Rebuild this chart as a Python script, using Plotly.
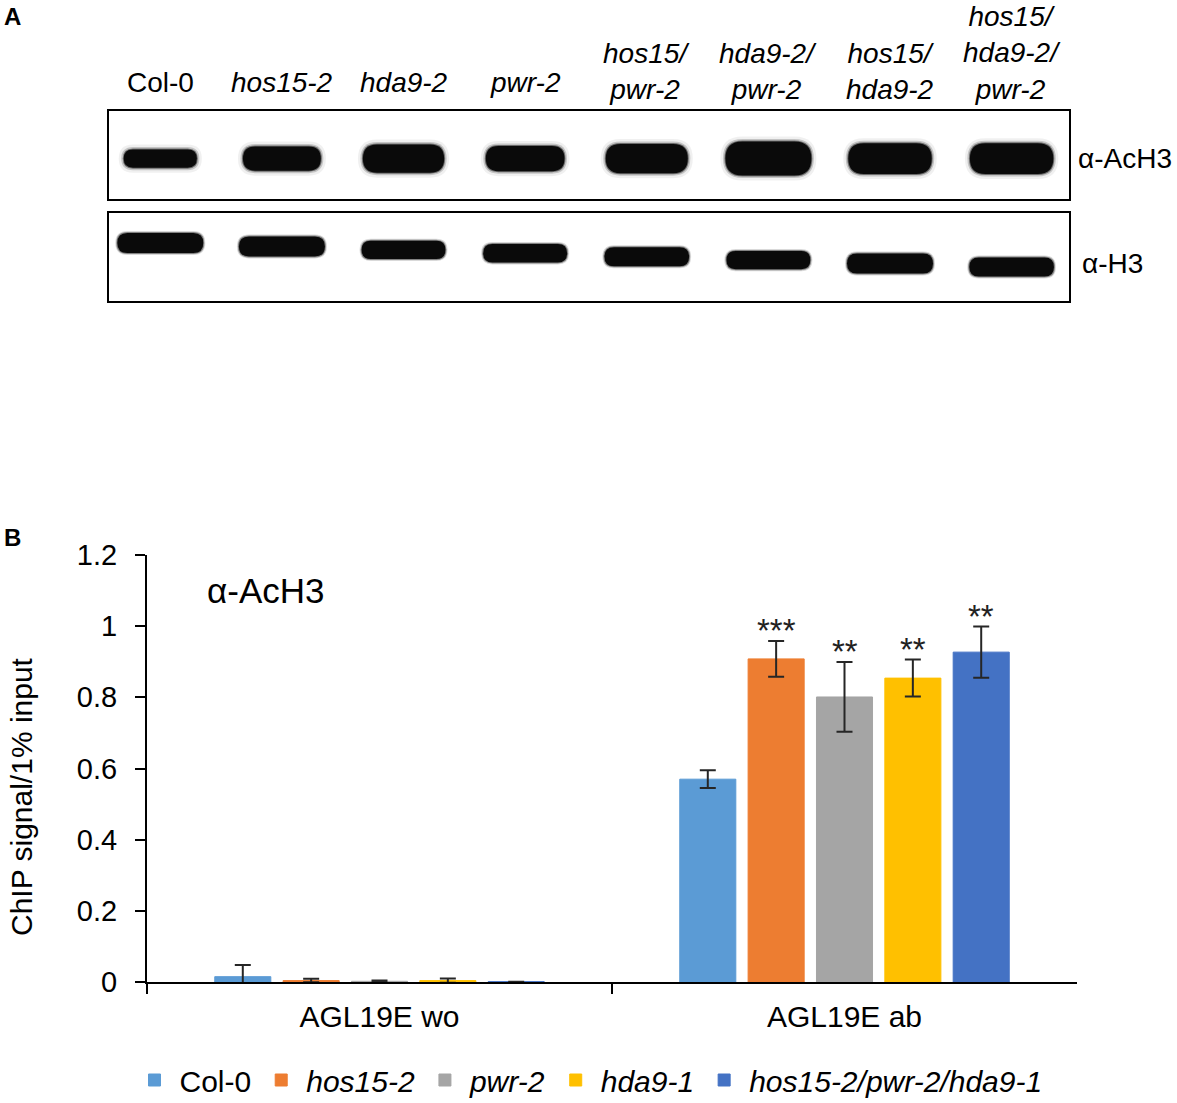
import plotly.graph_objects as go

# ---------------- panel B: ChIP qPCR (alpha-AcH3) ----------------
regions = ["AGL19E wo", "AGL19E ab"]
genotypes = ["Col-0", "<i>hos15-2</i>", "<i>pwr-2</i>", "<i>hda9-1</i>",
             "<i>hos15-2/pwr-2/hda9-1</i>"]
col0 = [0.015, 0.570]
col0_err = [0.033, 0.025]
hos15 = [0.004, 0.908]
hos15_err = [0.005, 0.050]
pwr = [0.002, 0.801]
pwr_err = [0.002, 0.098]
hda9 = [0.004, 0.854]
hda9_err = [0.006, 0.052]
triple = [0.001, 0.927]
triple_err = [0.0, 0.072]
# significance marks per genotype, per region
col0_sig = ["", ""]
hos15_sig = ["", "***"]
pwr_sig = ["", "**"]
hda9_sig = ["", "**"]
triple_sig = ["", "**"]

colors = ["#5B9BD5", "#ED7D31", "#A5A5A5", "#FFC000", "#4472C4"]

# ---------------- panel A: western blot ----------------
lanes = ["Col-0", "<i>hos15-2</i>", "<i>hda9-2</i>", "<i>pwr-2</i>",
         "<i>hos15/<br>pwr-2</i>", "<i>hda9-2/<br>pwr-2</i>",
         "<i>hos15/<br>hda9-2</i>", "<i>hos15/<br>hda9-2/<br>pwr-2</i>"]
# relative band intensity (read by eye)
ach3_signal = [0.54, 0.71, 0.83, 0.74, 0.86, 1.0, 0.91, 0.91]
h3_signal = [1.0, 1.0, 0.92, 0.92, 0.95, 0.92, 1.0, 0.95]

W, H = 1177, 1103
BAR_GAP = 0.265
GROUP_GAP = 0.18


def px_x(p):
    return p / W


def px_y(p):
    return 1 - p / H


fig = go.Figure()

series = [(col0, col0_err, col0_sig), (hos15, hos15_err, hos15_sig),
          (pwr, pwr_err, pwr_sig), (hda9, hda9_err, hda9_sig),
          (triple, triple_err, triple_sig)]

for name, color, (vals, errs, sig) in zip(genotypes, colors, series):
    fig.add_trace(go.Bar(
        x=regions, y=vals, name=name,
        marker=dict(color=color, line=dict(color=color, width=1)),
        error_y=dict(type="data", array=errs, color="#262626",
                     thickness=2, width=8),
        hoverinfo="skip",
    ))

# stars above error bars, placed at each bar's slot inside the group
annotations = []
slot = (1 - BAR_GAP) / len(series)
for i, (vals, errs, sig) in enumerate(series):
    for g, (v, e, s) in enumerate(zip(vals, errs, sig)):
        if not s:
            continue
        annotations.append(dict(
            x=g - (1 - BAR_GAP) / 2 + slot * (i + 0.5), y=v + e,
            xref="x", yref="y", text=s, showarrow=False,
            yanchor="bottom", yshift=-10,
            font=dict(size=33, color="#222")))

annotations.append(dict(x=px_x(205), y=px_y(590), xref="paper", yref="paper",
                        text="α-AcH3", showarrow=False, xanchor="left",
                        yanchor="middle", font=dict(size=35)))
annotations.append(dict(x=px_x(21), y=px_y(797), xref="paper", yref="paper",
                        text="ChIP signal/1% input", showarrow=False,
                        textangle=-90, xanchor="center", yanchor="middle",
                        font=dict(size=30)))
annotations.append(dict(x=px_x(2), y=px_y(17), xref="paper", yref="paper",
                        text="<b>A</b>", showarrow=False, xanchor="left",
                        yanchor="middle", font=dict(size=24)))
annotations.append(dict(x=px_x(2), y=px_y(537), xref="paper", yref="paper",
                        text="<b>B</b>", showarrow=False, xanchor="left",
                        yanchor="middle", font=dict(size=24)))

# ---------------- blot drawing ----------------
BOX_L, BOX_R = 108, 1070
UP_T, UP_B = 110, 200
LO_T, LO_B = 212, 302
LANE_RANGE = [-0.43, 7.48]
lane_px = (BOX_R - BOX_L) / (LANE_RANGE[1] - LANE_RANGE[0])

# invisible anchors so the blot axes exist
fig.add_trace(go.Scatter(x=list(range(len(lanes))), y=[0.5] * len(lanes),
                         xaxis="x2", yaxis="y2", mode="markers",
                         marker=dict(opacity=0), showlegend=False,
                         hoverinfo="skip"))
fig.add_trace(go.Scatter(x=list(range(len(lanes))), y=[0.5] * len(lanes),
                         xaxis="x2", yaxis="y3", mode="markers",
                         marker=dict(opacity=0), showlegend=False,
                         hoverinfo="skip"))


def band_path(xc, yc, w_px, h_px, box_h):
    hw = w_px / 2 / lane_px
    hh = h_px / 2 / box_h
    r = (h_px / 2) / lane_px
    x0, x1 = xc - hw, xc + hw
    y0, y1 = yc - hh, yc + hh
    return (f"M{x0 + r},{y0} L{x1 - r},{y0} Q{x1},{y0} {x1},{yc} "
            f"Q{x1},{y1} {x1 - r},{y1} L{x0 + r},{y1} Q{x0},{y1} {x0},{yc} "
            f"Q{x0},{y0} {x0 + r},{y0} Z")


shapes = []
for yref in ["y2", "y3"]:
    shapes.append(dict(type="rect", xref="x2 domain", yref=yref + " domain",
                       x0=0, x1=1, y0=0, y1=1,
                       line=dict(color="black", width=2),
                       fillcolor="rgba(0,0,0,0)"))


def add_band(yref, k, yc, w, h, box_h, halos):
    for grow, alpha in halos:
        shapes.append(dict(type="path", xref="x2", yref=yref,
                           path=band_path(k, yc, w + grow, h + grow, box_h),
                           fillcolor=f"rgba(0,0,0,{alpha})",
                           line=dict(width=0)))
    shapes.append(dict(type="path", xref="x2", yref=yref,
                       path=band_path(k, yc, w, h, box_h),
                       fillcolor="#0a0a0a", line=dict(width=0)))


n = len(lanes)
for k in range(n):
    # AcH3 row: fuzzy bands, thickness follows signal
    s = ach3_signal[k]
    add_band("y2", k, 0.46, 58 + 28 * s, 34 * s, UP_B - UP_T,
             [(10, 0.06), (5, 0.18), (2, 0.45)])
    # H3 row: sharper bands, slight downward smile across the gel
    s = h3_signal[k]
    yc = 0.656 - (0.656 - 0.389) * k / (n - 1)
    add_band("y3", k, yc, 60 + 26 * s, 20 * s, LO_B - LO_T,
             [(4, 0.15), (2, 0.4)])

for k, lab in enumerate(lanes):
    # stacked (multi-line) labels sit a little lower than single-line ones
    bottom = 106 if "<br>" in lab else 99
    annotations.append(dict(x=k, y=px_y(bottom), xref="x2", yref="paper",
                            text=lab, showarrow=False, xanchor="center",
                            yanchor="bottom", borderpad=0,
                            font=dict(size=28)))

annotations.append(dict(x=px_x(1076), y=px_y(159), xref="paper", yref="paper",
                        text="α-AcH3", showarrow=False, xanchor="left",
                        yanchor="middle", font=dict(size=28)))
annotations.append(dict(x=px_x(1080), y=px_y(263), xref="paper", yref="paper",
                        text="α-H3", showarrow=False, xanchor="left",
                        yanchor="middle", font=dict(size=28)))

fig.update_layout(
    width=W, height=H,
    margin=dict(l=0, r=0, t=0, b=0, autoexpand=False),
    paper_bgcolor="white", plot_bgcolor="white",
    font=dict(family="Liberation Sans, Arial, sans-serif", size=28,
              color="black"),
    barmode="group", bargap=BAR_GAP, bargroupgap=GROUP_GAP,
    xaxis=dict(domain=[px_x(147), px_x(1077)], anchor="y",
               range=[-0.5, 1.5], showline=True, linecolor="black",
               linewidth=2, ticks="outside", tickson="boundaries",
               ticklen=10, tickwidth=2, tickcolor="black",
               tickfont=dict(size=30), ticklabelstandoff=7,
               showgrid=False, zeroline=False),
    yaxis=dict(domain=[px_y(982), px_y(555)], anchor="x",
               range=[0, 1.2], dtick=0.2, showline=True, linecolor="black",
               linewidth=2, ticks="outside", ticklen=10, tickwidth=2,
               tickcolor="black", tickfont=dict(size=29),
               ticklabelstandoff=12, showgrid=False, zeroline=False),
    xaxis2=dict(domain=[px_x(BOX_L), px_x(BOX_R)], anchor="y2",
                range=LANE_RANGE, visible=False),
    yaxis2=dict(domain=[px_y(UP_B), px_y(UP_T)], anchor="x2",
                range=[0, 1], visible=False),
    yaxis3=dict(domain=[px_y(LO_B), px_y(LO_T)], anchor="x2",
                range=[0, 1], visible=False),
    legend=dict(orientation="h", x=0.5, xanchor="center",
                y=px_y(1080), yanchor="middle",
                font=dict(size=30), itemwidth=40, bgcolor="rgba(0,0,0,0)"),
    shapes=shapes,
    annotations=annotations,
)

fig.write_html("out.html", config={"displayModeBar": False},
               post_script="document.body.style.margin='0';")
